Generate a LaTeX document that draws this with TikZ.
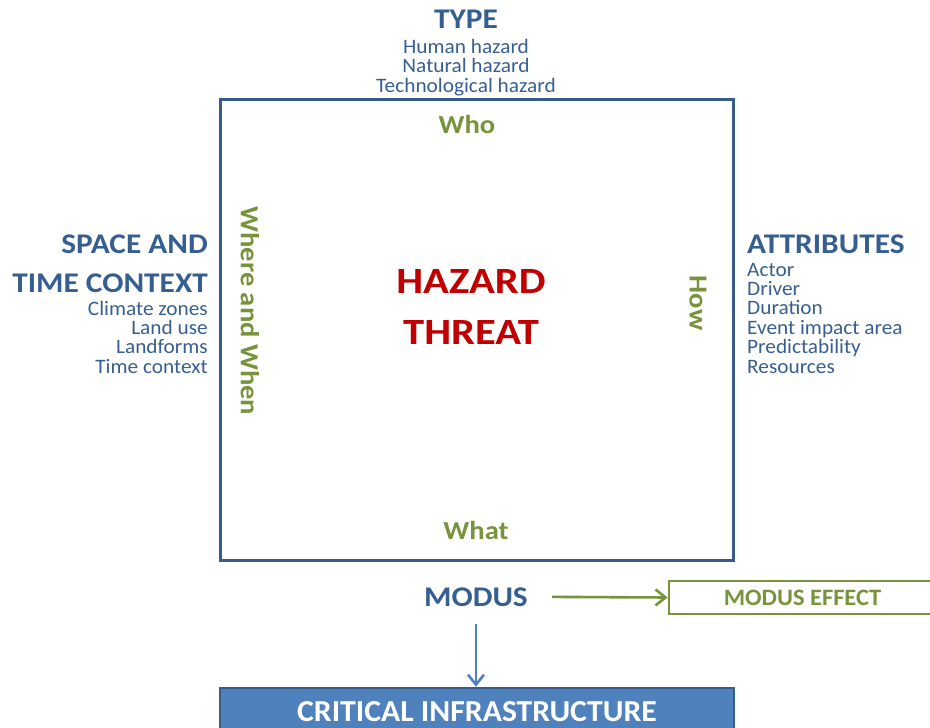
\documentclass[tikz,border=0pt]{standalone}
\usepackage{fontspec}
\setmainfont{Carlito}
\newfontfamily\fA{Carlito}[FakeStretch=1.10]
\newfontfamily\fB{Carlito}[FakeStretch=1.15]
\newfontfamily\fC{Carlito}[FakeStretch=1.04]
\usetikzlibrary{arrows.meta}
\definecolor{hblue}{HTML}{365F91}
\definecolor{hgreen}{HTML}{77933C}
\definecolor{hred}{HTML}{C00000}
\definecolor{boxline}{HTML}{385D8A}
\definecolor{cifill}{HTML}{4F81BD}
\begin{document}
\begin{tikzpicture}[x=1pt,y=-1pt,
  head/.style={text=hblue,font=\fA\fontsize{28.5}{30}\selectfont\bfseries,inner sep=0pt},
  item/.style={text=hblue,font=\fC\fontsize{20.5}{22}\selectfont,inner sep=0pt},
  wlabel/.style={text=hgreen,font=\fA\fontsize{26}{28}\selectfont\bfseries,inner sep=0pt},
  big/.style={text=hred,font=\fB\fontsize{37}{40}\selectfont\bfseries,inner sep=0pt},
  mainbox/.style={draw=boxline,line width=3pt,inner sep=0pt,minimum width=513pt,minimum height=461pt},
  effectbox/.style={draw=hgreen,line width=2.8pt,inner sep=0pt,minimum width=267pt,minimum height=33pt,
     text=hgreen,font=\fC\fontsize{23.5}{25}\selectfont\bfseries},
  cibox/.style={draw=boxline,fill=cifill,line width=2.5pt,inner sep=0pt,minimum width=514pt,minimum height=48pt,
     text=white,font=\fC\fontsize{30.5}{32}\selectfont\bfseries},
  garrow/.style={draw=hgreen,line width=2.6pt,-{Straight Barb[length=10pt,width=16pt]}},
  barrow/.style={draw=cifill,line width=2.6pt,-{Straight Barb[length=10pt,width=16pt]}}
]
\useasboundingbox (0,0) rectangle (930,728);
\clip (0,0) rectangle (930,728);

% main box
\node[mainbox] (box) at (476.5,329.5) {};

% TYPE
\node[head,anchor=base] (type) at (466,28) {TYPE};
\foreach \t [count=\i] in {Human hazard, Natural hazard, Technological hazard}
  \node[item,anchor=base] (type\i) at (466,{53+19.5*(\i-1)}) {\t};

% SPACE AND TIME CONTEXT
\node[head,anchor=base east] (space1) at (208,253) {SPACE AND};
\node[head,anchor=base east] (space2) at (208,292) {TIME CONTEXT};
\foreach \t [count=\i] in {Climate zones, Land use, Landforms, Time context}
  \node[item,anchor=base east] (sp\i) at (208,{315+19.4*(\i-1)}) {\t};

% ATTRIBUTES
\node[head,anchor=base west] (attr) at (747,253) {ATTRIBUTES};
\foreach \t [count=\i] in {Actor, Driver, Duration, Event impact area, Predictability, Resources}
  \node[item,anchor=base west] (at\i) at (747,{276+19.4*(\i-1)}) {\t};

% labels inside the box
\node[wlabel,anchor=base] (who) at (467,133) {Who};
\node[wlabel,anchor=base] (what) at (476,539) {What};
\node[wlabel,rotate=-90] (where) at (250,311) {Where and When};
\node[wlabel,rotate=-90] (how) at (698,303) {How};

% center
\node[big,anchor=base] (hazard) at (471,293) {HAZARD};
\node[big,anchor=base] (threat) at (471,344) {THREAT};

% modus
\node[head,anchor=base] (modus) at (476,606) {MODUS};
\node[effectbox] (effect) at (802.5,597.5) {MODUS EFFECT};
\node[cibox] (ci) at (477,712) {CRITICAL INFRASTRUCTURE};

\draw[garrow,shorten <=24pt] (modus.east) -- (effect.west);
\draw[barrow,shorten <=18pt] (modus.south) -- (modus.south |- ci.north);
\end{tikzpicture}
\end{document}
